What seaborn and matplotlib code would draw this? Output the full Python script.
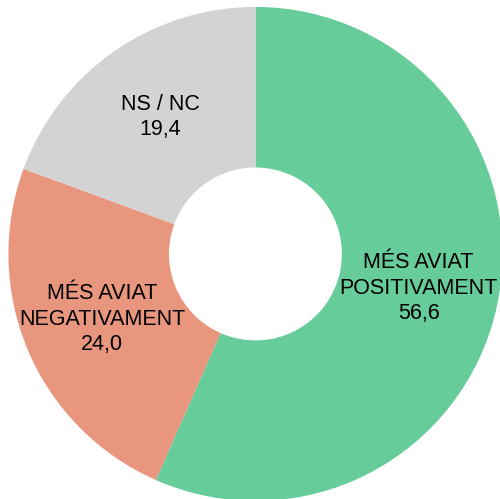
import matplotlib
matplotlib.use("Agg")
import matplotlib.pyplot as plt
import seaborn as sns
import numpy as np

sns.set_style("white")
plt.rcParams['font.family'] = ['Liberation Sans', 'DejaVu Sans']

# data
categories = ["MÉS AVIAT\nPOSITIVAMENT", "MÉS AVIAT\nNEGATIVAMENT", "NS / NC"]
values = [56.6, 24.0, 19.4]
colors = ["#66CC99", "#E9967E", "#D3D3D3"]

fig = plt.figure(figsize=(5.0, 4.99), dpi=100)
ax = fig.add_axes([0, 0, 1, 1])

labels = [f"{c}\n{v:.1f}".replace(".", ",") for c, v in zip(categories, values)]
wedges, texts = ax.pie(values, colors=colors, startangle=90, counterclock=False,
                       labels=labels, labeldistance=0.675,
                       wedgeprops=dict(width=0.65, linewidth=0),
                       textprops=dict(fontsize=15.5, color="black", linespacing=1.27))
for t in texts:
    t.set_ha("center")
    t.set_va("center")
    t.set_multialignment("center")

ax.set_xlim(-1.034, 0.990)
ax.set_ylim(-0.992, 1.028)
ax.set_aspect("equal")
ax.axis("off")

plt.savefig("out.png", dpi=100)
